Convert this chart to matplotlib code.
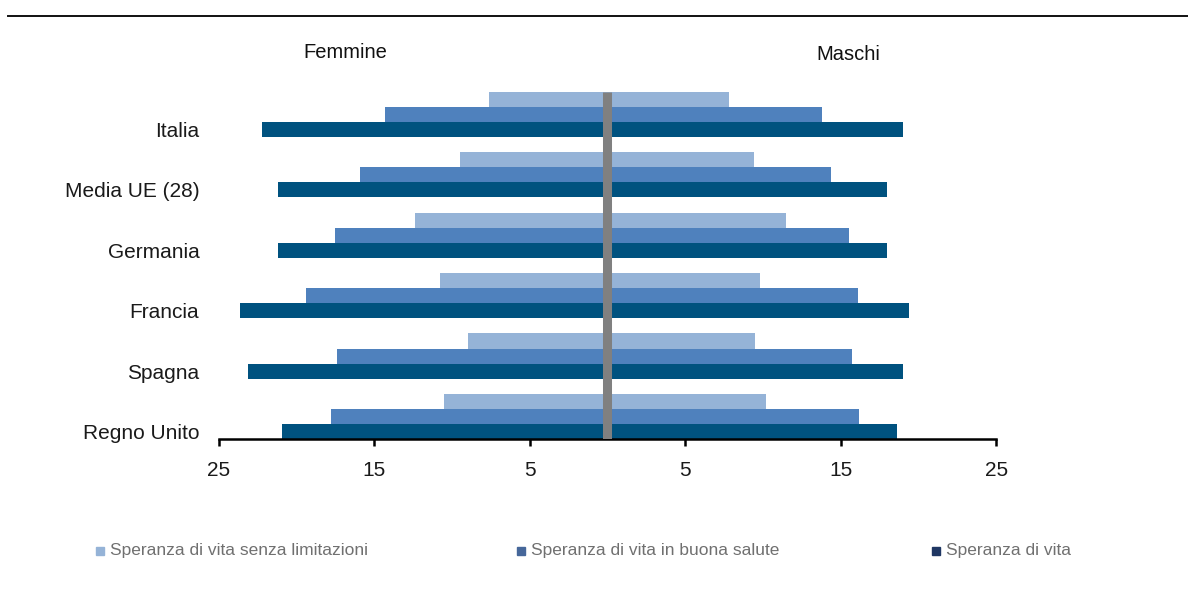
import numpy as np
import matplotlib
matplotlib.use('Agg')
import matplotlib.pyplot as plt
from matplotlib.lines import Line2D

paesi = ['Italia', 'Media UE (28)', 'Germania', 'Francia', 'Spagna', 'Regno Unito']

# Femmine (anni a 65 anni)
f_senza_limitazioni = [7.6, 9.5, 12.4, 10.8, 9.0, 10.5]
f_buona_salute = [14.3, 15.9, 17.5, 19.4, 17.4, 17.8]
f_vita = [22.2, 21.2, 21.2, 23.6, 23.1, 20.9]

# Maschi
m_senza_limitazioni = [7.8, 9.4, 11.5, 9.8, 9.5, 10.2]
m_buona_salute = [13.8, 14.4, 15.5, 16.1, 15.7, 16.2]
m_vita = [19.0, 18.0, 18.0, 19.4, 19.0, 18.6]

serie = ['Speranza di vita senza limitazioni', 'Speranza di vita in buona salute', 'Speranza di vita']
tick_valori = [-25, -15, -5, 5, 15, 25]

col_chiaro = '#95b3d7'
col_medio = '#4f81bd'
col_scuro = '#00527f'
col_legenda = ['#95b3d7', '#46679a', '#1f3763']


def grafico():
    plt.rcParams['font.family'] = ['Liberation Sans', 'DejaVu Sans']
    fig = plt.figure(figsize=(11.88, 5.91), dpi=100)
    ax = fig.add_axes([0.1841, 0.2568, 0.6545, 0.5959])

    y = -np.arange(len(paesi))
    h = 0.25

    # barre femmine a sinistra, maschi a destra
    ax.barh(y + 2 * h, -np.array(f_senza_limitazioni), height=h, color=col_chiaro)
    ax.barh(y + h, -np.array(f_buona_salute), height=h, color=col_medio)
    ax.barh(y, -np.array(f_vita), height=h, color=col_scuro)
    ax.barh(y + 2 * h, m_senza_limitazioni, height=h, color=col_chiaro)
    ax.barh(y + h, m_buona_salute, height=h, color=col_medio)
    ax.barh(y, m_vita, height=h, color=col_scuro)

    # asse centrale grigio
    ax.vlines(0, -5.125, 2 * h + h / 2, color='#808080', linewidth=6.5, zorder=5)

    ax.set_xlim(-25, 25)
    ax.set_ylim(-5.125, 0.7)

    ax.set_yticks(y)
    ax.set_yticklabels(paesi, fontsize=15, color='#1a1a1a')
    ax.tick_params(axis='y', length=0, pad=14)

    ax.set_xticks(tick_valori)
    ax.set_xticklabels([str(abs(v)) for v in tick_valori], fontsize=15, color='#1a1a1a')
    ax.tick_params(axis='x', length=5, width=1.8, pad=10.5, direction='out')

    for s in ['top', 'right', 'left']:
        ax.spines[s].set_visible(False)
    ax.spines['bottom'].set_linewidth(1.8)

    # titoli dei due lati
    fig.text(345 / 1188, 1 - 53 / 591, 'Femmine', ha='center', va='center', fontsize=14.5,
             family=['Liberation Sans Narrow', 'Liberation Sans'], color='#111111')
    fig.text(848 / 1188, 1 - 55 / 591, 'Maschi', ha='center', va='center', fontsize=14.5,
             family=['Liberation Sans Narrow', 'Liberation Sans'], color='#111111')

    # linea in alto
    fig.add_artist(Line2D([8 / 1188, 1], [1 - 16 / 591, 1 - 16 / 591], color='#111111', linewidth=1.4))

    # legenda in basso
    x_marker = [100, 521, 936]
    yl = 1 - 551 / 591
    for xm, testo, c in zip(x_marker, serie, col_legenda):
        fig.add_artist(Line2D([xm / 1188], [yl], marker='s', markersize=6, color=c, linestyle='none'))
        fig.text((xm + 10) / 1188, yl, testo, ha='left', va='center', fontsize=12.5, color='#707070')

    fig.savefig('out.png', dpi=100)


if __name__ == '__main__':
    grafico()
